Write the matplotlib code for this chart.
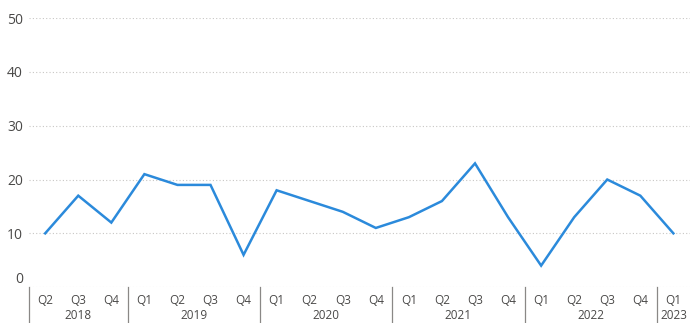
import matplotlib
matplotlib.use("Agg")
import matplotlib.pyplot as plt
import matplotlib.transforms as mtransforms

plt.rcParams['font.family'] = ['Open Sans', 'DejaVu Sans']

years = [2018, 2018, 2018,
         2019, 2019, 2019, 2019,
         2020, 2020, 2020, 2020,
         2021, 2021, 2021, 2021,
         2022, 2022, 2022, 2022,
         2023]
quarters = ["Q2", "Q3", "Q4",
            "Q1", "Q2", "Q3", "Q4",
            "Q1", "Q2", "Q3", "Q4",
            "Q1", "Q2", "Q3", "Q4",
            "Q1", "Q2", "Q3", "Q4",
            "Q1"]
values = [10, 17, 12,
          21, 19, 19, 6,
          18, 16, 14, 11,
          13, 16, 23, 13,
          4, 13, 20, 17,
          10]
y_ticks = [0, 10, 20, 30, 40, 50]

text_color = "#4A4948"
line_color = "#2B8ADB"

fig = plt.figure(figsize=(6.99, 3.23), dpi=100)
ax = fig.add_axes([0.041, 0.111, 0.946, 0.833])

x = list(range(len(values)))
ax.plot(x, values, color=line_color, linewidth=1.8, solid_joinstyle="miter")

ax.set_xlim(-0.5, len(values) - 0.5)
ax.set_ylim(0, 50)
ax.set_yticks(y_ticks)
ax.yaxis.grid(True, linestyle=(0, (1, 2)), color="#C8C6C4", linewidth=0.8)
ax.set_axisbelow(True)

for s in ax.spines.values():
    s.set_visible(False)

ax.tick_params(axis="y", length=0, pad=4, labelsize=10, labelcolor=text_color)
# the zero label sits a little above the baseline
ax.get_yticklabels()[0].set_verticalalignment("bottom")
ax.set_xticks(x)
ax.set_xticklabels(quarters)
ax.tick_params(axis="x", length=0, pad=5, labelsize=8.5, labelcolor=text_color)

# Year group labels and separators below the quarter ticks
trans = mtransforms.blended_transform_factory(ax.transData, ax.transAxes)
groups = []
for i, yr in enumerate(years):
    if not groups or groups[-1][0] != yr:
        groups.append([yr, i, i])
    else:
        groups[-1][2] = i

for yr, start, end in groups:
    ax.plot([start - 0.5, start - 0.5], [0, -0.14], transform=trans,
            color="#8A8886", linewidth=0.9, clip_on=False)
    ax.text((start + end) / 2, -0.107, str(yr), transform=trans,
            ha="center", va="center", fontsize=8.5, color=text_color)

fig.savefig("out.png", dpi=100, facecolor="white")
